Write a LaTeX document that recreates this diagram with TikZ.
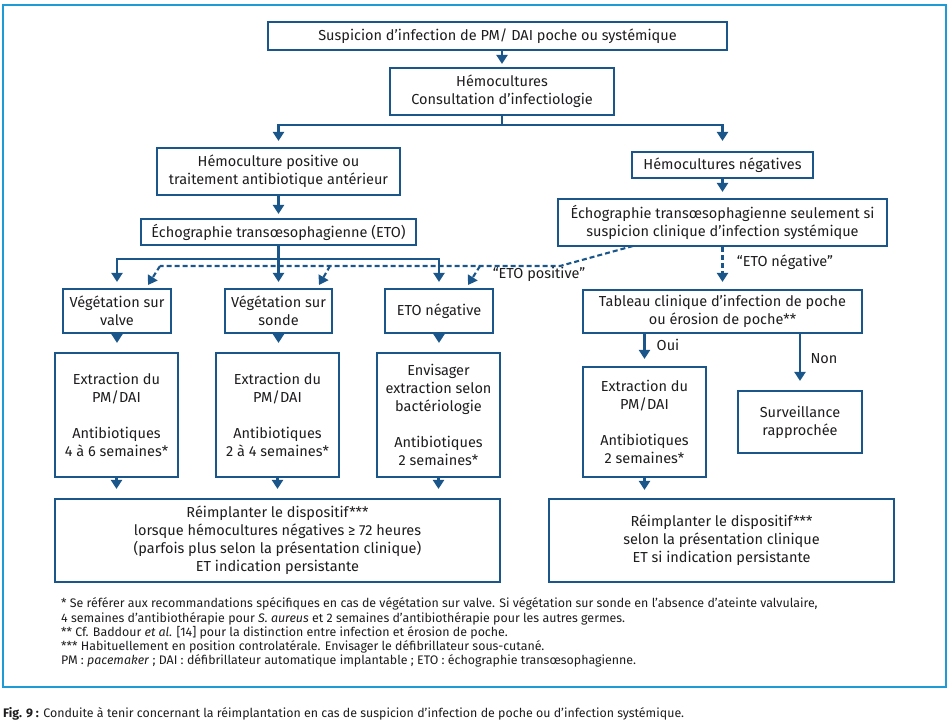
\documentclass[tikz,border=0pt]{standalone}
\usepackage{fontspec}
\setmainfont{Fira Sans}
\usetikzlibrary{arrows.meta,calc}
\definecolor{navy}{RGB}{26,86,138}
\definecolor{frameblue}{RGB}{30,154,214}
\definecolor{txt}{RGB}{30,28,30}
\begin{document}
\begin{tikzpicture}[x=1pt,y=-1pt,
  box/.style={draw=navy,line width=2.1pt,text=txt,align=center,inner sep=0pt,font=\fontsize{14.5}{18}\selectfont},
  conn/.style={draw=navy,line width=2.1pt,-{Triangle[width=11pt,length=9pt]}},
  dconn/.style={conn,dash pattern=on 5pt off 3pt},
  dline/.style={draw=navy,line width=2.1pt,dash pattern=on 5pt off 3pt},
  lbl/.style={text=txt,inner sep=0pt,font=\fontsize{14.5}{18}\selectfont},
  fn/.style={anchor=base west,inner sep=0pt,text=txt,font=\fontsize{12.4}{14}\selectfont}]
\useasboundingbox (0,0) rectangle (950,720);
\draw[frameblue,line width=2.5pt] (3,5) rectangle (946,687);

% boxes
\node[box,minimum width=459pt,minimum height=28pt] (A) at (497.5,36) {Suspicion d’infection de PM/ DAI poche ou systémique};
\node[box,minimum width=224pt,minimum height=47pt] (B) at (502,91.5) {Hémocultures\\Consultation d’infectiologie};
\node[box,minimum width=243pt,minimum height=47pt] (C) at (278.5,171.5) {Hémoculture positive ou\\traitement antibiotique antérieur};
\node[box,minimum width=181pt,minimum height=26pt] (F) at (722.5,165) {Hémocultures négatives};
\node[box,minimum width=275pt,minimum height=26pt] (D) at (278.5,232) {Échographie transœsophagienne (ETO)};
\node[box,minimum width=329pt,minimum height=47pt] (G) at (722.5,222.5) {Échographie transœsophagienne seulement si\\suspicion clinique d’infection systémique};
\node[box,minimum width=108pt,minimum height=44pt] (E1) at (117,311) {Végétation sur\\valve};
\node[box,minimum width=107pt,minimum height=44pt] (E2) at (278.5,311) {Végétation sur\\sonde};
\node[box,minimum width=108pt,minimum height=44pt] (E3) at (439,311) {ETO négative};
\node[box,minimum width=279pt,minimum height=43pt] (H) at (722.5,311.5) {Tableau clinique d’infection de poche\\ou érosion de poche**};
\node[box,minimum width=123pt,minimum height=124pt] (L1) at (116.5,415) {Extraction du\\PM/DAI\\[18pt]Antibiotiques\\4 à 6 semaines*};
\node[box,minimum width=123pt,minimum height=124pt] (L2) at (277.5,415) {Extraction du\\PM/DAI\\[18pt]Antibiotiques\\2 à 4 semaines*};
\node[box,minimum width=123pt,minimum height=124pt] (L3) at (438.5,415) {Envisager\\extraction selon\\bactériologie\\[18pt]Antibiotiques\\2 semaines*};
\node[box,minimum width=123pt,minimum height=110pt] (I) at (644.5,422) {Extraction du\\PM/DAI\\[18pt]Antibiotiques\\2 semaines*};
\node[box,minimum width=124pt,minimum height=62pt] (J) at (800,422) {Surveillance\\rapprochée};
\node[box,minimum width=445pt,minimum height=83pt] (M) at (277.5,540.5) {Réimplanter le dispositif***\\lorsque hémocultures négatives ≥ 72 heures\\(parfois plus selon la présentation clinique)\\ET indication persistante};
\node[box,minimum width=345pt,minimum height=83pt] (K) at (721.5,540.5) {Réimplanter le dispositif***\\selon la présentation clinique\\ET si indication persistante};

% solid connectors
\draw[conn,shorten >=3pt] (A.south -| B.north) -- (B.north);
\draw[conn,shorten >=6pt] (B.south) -- ++(0,9) -| (C.north);
\draw[conn,shorten >=10pt] (B.south) -- ++(0,9) -| (F.north);
\draw[conn,shorten >=4pt] (C.south) -- (D.north);
\draw[conn,shorten >=6pt] (F.south) -- (G.north);
\draw[conn,shorten >=6pt] (D.south) -- ++(0,13) -| (E1.north);
\draw[conn,shorten >=6pt] (D.south) -- ++(0,13) -| (E2.north);
\draw[conn,shorten >=6pt] (D.south) -- ++(0,13) -| (E3.north);
\foreach \e/\l in {E1/L1,E2/L2,E3/L3}{
  \draw[conn,shorten >=9pt] (\e.south) -- (\e.south |- \l.north);
  \draw[conn,shorten >=9pt] (\l.south) -- (\l.south |- M.north);
}
\draw[conn,shorten >=7pt] (I.north |- H.south) -- (I.north);
\draw[conn,shorten >=9pt] (J.north |- H.south) -- (J.north);
\draw[conn,shorten >=8pt] (I.south) -- (I.south |- K.north);

% dashed connectors
\draw[dconn,shorten >=7pt] (G.south) -- (H.north);
\coordinate (gp) at (633,246);
\coordinate (k) at (560,266);
\coordinate (h1) at (160,266);
\coordinate (h2) at (330,266);
\coordinate (h3) at (480,266);
\coordinate (t1) at (148,285);
\coordinate (t2) at (319,285);
\coordinate (t3) at (468,285);
\draw[dline] (gp) -- (k) -- (h1);
\draw[dconn] (h1) -- (t1);
\draw[dconn] (h2) -- (t2);
\draw[dconn] (h3) -- (t3);

% labels
\node[lbl] (lpos) at (539,274) {“ETO positive”};
\node[lbl] (lneg) at (785,262) {“ETO négative”};
\node[lbl] (loui) at (668,345) {Oui};
\node[lbl] (lnon) at (824,359) {Non};

% footnotes
\node[fn] (fn1) at (61,607) {* Se référer aux recommandations spécifiques en cas de végétation sur valve. Si végétation sur sonde en l’absence d’ateinte valvulaire,};
\node[fn] (fn2) at (61,622) {4 semaines d’antibiothérapie pour \textit{S. aureus} et 2 semaines d’antibiothérapie pour les autres germes.};
\node[fn] (fn3) at (61,636) {** Cf. Baddour \textit{et al.} [14] pour la distinction entre infection et érosion de poche.};
\node[fn] (fn4) at (61,650) {*** Habituellement en position controlatérale. Envisager le défibrillateur sous-cutané.};
\node[fn] (fn5) at (61,664) {PM : \textit{pacemaker} ; DAI : défibrillateur automatique implantable ; ETO : échographie transœsophagienne.};
\node[fn] (cap) at (3,717) {\textbf{Fig. 9 :} Conduite à tenir concernant la réimplantation en cas de suspicion d’infection de poche ou d’infection systémique.};
\end{tikzpicture}
\end{document}
